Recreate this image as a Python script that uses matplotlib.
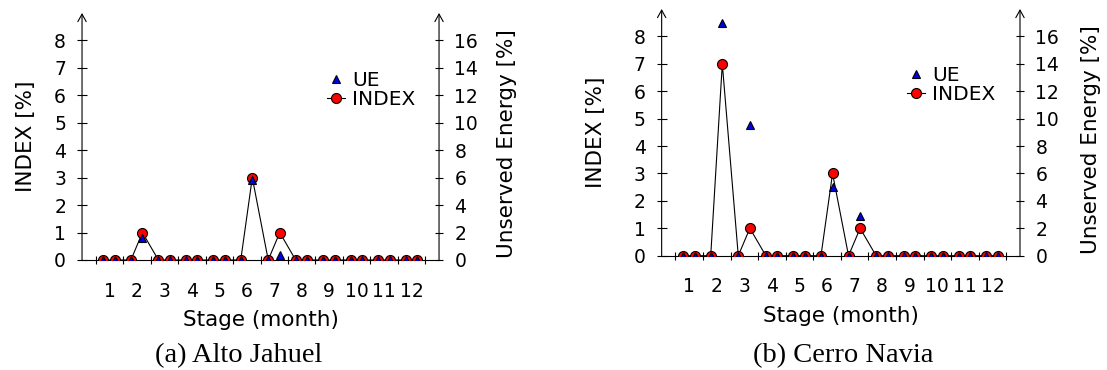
import numpy as np
import matplotlib.pyplot as plt
from matplotlib.lines import Line2D

# two stages per month, 12 months
months = np.arange(1, 13)
stage_offsets = [-0.22, 0.20]
stage_x = np.repeat(months, 2) + np.tile(stage_offsets, 12)

# Alto Jahuel
aj_index = [0, 0, 0, 1, 0, 0, 0, 0, 0, 0, 0, 3, 0, 1, 0, 0, 0, 0, 0, 0, 0, 0, 0, 0]
aj_ue = [0, 0, 0, 1.6, 0, 0, 0, 0, 0, 0, 0, 5.8, 0, 0.4, 0, 0, 0, 0, 0, 0, 0, 0, 0, 0]
# Cerro Navia
cn_index = [0, 0, 0, 7, 0, 1, 0, 0, 0, 0, 0, 3, 0, 1, 0, 0, 0, 0, 0, 0, 0, 0, 0, 0]
cn_ue = [0, 0, 0, 17, 0, 9.5, 0, 0, 0, 0, 0, 5, 0, 2.9, 0, 0, 0, 0, 0, 0, 0, 0, 0, 0]

index_ticks = list(range(0, 9))
ue_ticks = list(range(0, 17, 2))

SANS = "DejaVu Sans"
SERIF = "Liberation Serif"
plt.rcParams["font.family"] = SANS
plt.rcParams["axes.linewidth"] = 0.8

TICK_FS = 13.5
LABEL_FS = 15.5
LEGEND_FS = 14.5


def draw_panel(ax, index, ue, caption, cap_x, ylab_x, ylab2_x):
    ax.plot(stage_x, index, color="black", lw=0.8, marker="o", ms=7.2,
            mfc="red", mec="black", mew=0.8, zorder=3)
    ax.set_xlim(0, 13)
    ax.set_ylim(0, 9)

    ax.set_xticks(months)
    ax.set_xticklabels([str(m) for m in months])
    ax.set_xticks(np.arange(0.5, 13, 1), minor=True)
    ax.tick_params(axis="x", which="major", length=0, pad=15.5, labelsize=TICK_FS)
    ax.tick_params(axis="x", which="minor", direction="inout", length=5.5, width=0.8)
    ax.set_yticks(index_ticks)
    ax.tick_params(axis="y", direction="inout", length=7, width=0.8, pad=8,
                   labelsize=TICK_FS)

    for s in ("top", "left", "right"):
        ax.spines[s].set_visible(False)
    ax.set_xlabel("Stage (month)", fontsize=LABEL_FS, labelpad=7)
    ax.set_ylabel("INDEX [%]", fontsize=LABEL_FS)
    ax.yaxis.set_label_coords(ylab_x, 0.5)

    ax2 = ax.twinx()
    ax2.plot(stage_x, ue, ls="none", marker="^", ms=6.2, mfc="#0000e6",
             mec="black", mew=0.8, zorder=4)
    ax2.set_ylim(0, 18)
    ax2.set_yticks(ue_ticks)
    ax2.tick_params(axis="y", direction="inout", length=6, width=0.8, pad=8,
                    labelsize=TICK_FS)
    for s in ax2.spines.values():
        s.set_visible(False)
    ax2.set_ylabel("Unserved Energy [%]", fontsize=LABEL_FS)
    ax2.yaxis.set_label_coords(ylab2_x, 0.47)

    # y axes with arrow heads
    for xa in (0, 1):
        ax.annotate("", xy=(xa, 1.0), xytext=(xa, 0), xycoords="axes fraction",
                    arrowprops=dict(arrowstyle="->,head_length=0.45,head_width=0.25",
                                    lw=0.8, color="black", shrinkA=0, shrinkB=0,
                                    mutation_scale=12))

    handles = [
        Line2D([], [], ls="none", marker="^", ms=6.2, mfc="#0000e6", mec="black", mew=0.8),
        Line2D([], [], color="black", lw=0.8, marker="o", ms=7.2, mfc="red",
               mec="black", mew=0.8),
    ]
    ax2.legend(handles, ["UE", "INDEX"], loc="center left",
               bbox_to_anchor=(0.685, 0.69), frameon=False, fontsize=LEGEND_FS,
               handlelength=0.9, handletextpad=0.35, borderpad=0,
               labelspacing=0.0, borderaxespad=0)

    ax.figure.text(cap_x, 0.0203, caption, family=SERIF, fontsize=20.5,
                   ha="center", va="baseline")


fig = plt.figure(figsize=(11.07, 3.7), dpi=100)
ax_a = fig.add_axes([0.0741, 0.2973, 0.3225, 0.6676])
ax_b = fig.add_axes([0.5977, 0.3089, 0.3237, 0.6668])

draw_panel(ax_a, aj_index, aj_ue, "(a) Alto Jahuel", 0.216, -0.13, 1.162)
draw_panel(ax_b, cn_index, cn_ue, "(b) Cerro Navia", 0.7615, -0.155, 1.17)

fig.savefig("out.png", dpi=100)
